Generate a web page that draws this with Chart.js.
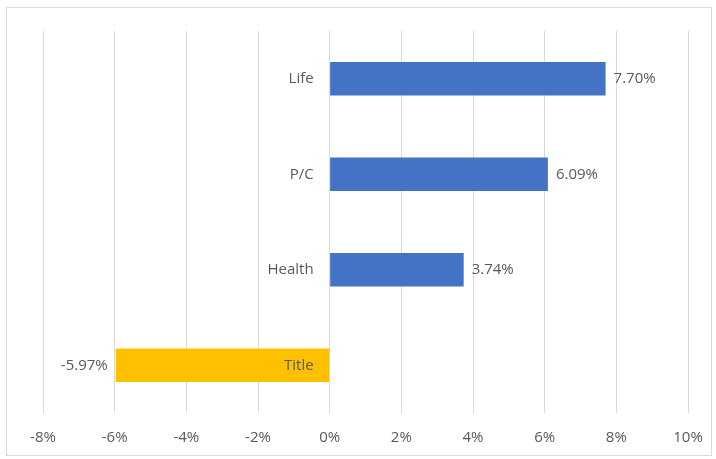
<!DOCTYPE html>
<html>
<head>
<meta charset="utf-8">
<script src="https://cdn.jsdelivr.net/npm/chart.js@4"></script>
<style>
  html, body { margin: 0; padding: 0; background: #fff; }
  #wrap { width: 716px; height: 459px; position: relative; }
</style>
</head>
<body>
<div id="wrap"><canvas id="myChart" width="716" height="459"></canvas></div>
<script>
// chart data
var categories = ['Life', 'P/C', 'Health', 'Title'];
var values = [7.70, 6.09, 3.74, -5.97];
var barColors = ['#4472C4', '#4472C4', '#4472C4', '#FFC000'];
var tickLabels = ['-8%', '-6%', '-4%', '-2%', '0%', '2%', '4%', '6%', '8%', '10%'];

var textColor = '#595959';
var fontFamily = "'Open Sans', 'Liberation Sans', sans-serif";

// labels next to the zero line, value labels at the bar ends, outer border
var labelPlugin = {
  id: 'labelPlugin',
  afterDatasetsDraw: function(chart) {
    var ctx = chart.ctx;
    var xs = chart.scales.x;
    var meta = chart.getDatasetMeta(0);
    var zero = xs.getPixelForValue(0);
    ctx.save();
    ctx.font = '15px ' + fontFamily;
    ctx.fillStyle = textColor;
    ctx.textBaseline = 'middle';
    meta.data.forEach(function(bar, i) {
      // category name
      ctx.textAlign = 'right';
      ctx.fillText(categories[i], zero - 16, bar.y);
      // value label
      var txt = values[i].toFixed(2) + '%';
      if (values[i] >= 0) {
        ctx.textAlign = 'left';
        ctx.fillText(txt, bar.x + 8, bar.y);
      } else {
        ctx.textAlign = 'right';
        ctx.fillText(txt, bar.x - 8, bar.y);
      }
    });
    ctx.strokeStyle = '#d9d9d9';
    ctx.lineWidth = 1;
    ctx.strokeRect(6.5, 7.5, 705, 448);
    ctx.restore();
  }
};

var ctx = document.getElementById('myChart').getContext('2d');
var myChart = new Chart(ctx, {
  type: 'bar',
  data: {
    labels: categories,
    datasets: [{
      data: values,
      backgroundColor: barColors,
      borderWidth: 0,
      barPercentage: 0.35,
      categoryPercentage: 1
    }]
  },
  options: {
    indexAxis: 'y',
    responsive: false,
    animation: false,
    layout: { padding: { left: 43, right: 28, top: 31, bottom: 0 } },
    plugins: {
      legend: { display: false },
      tooltip: { enabled: false }
    },
    scales: {
      x: {
        min: -8,
        max: 10,
        afterBuildTicks: function(scale) {
          scale.ticks = tickLabels.map(function(t) { return { value: parseFloat(t) }; });
        },
        afterFit: function(scale) {
          scale.height = 46;
          scale.paddingLeft = 0;
          scale.paddingRight = 0;
        },
        grid: { color: '#d9d9d9', lineWidth: 1, drawTicks: false },
        border: { display: false },
        ticks: {
          padding: 16,
          color: textColor,
          font: { size: 15, family: fontFamily },
          callback: function(v, i) { return tickLabels[i]; }
        }
      },
      y: {
        display: false
      }
    }
  },
  plugins: [labelPlugin]
});
</script>
</body>
</html>
